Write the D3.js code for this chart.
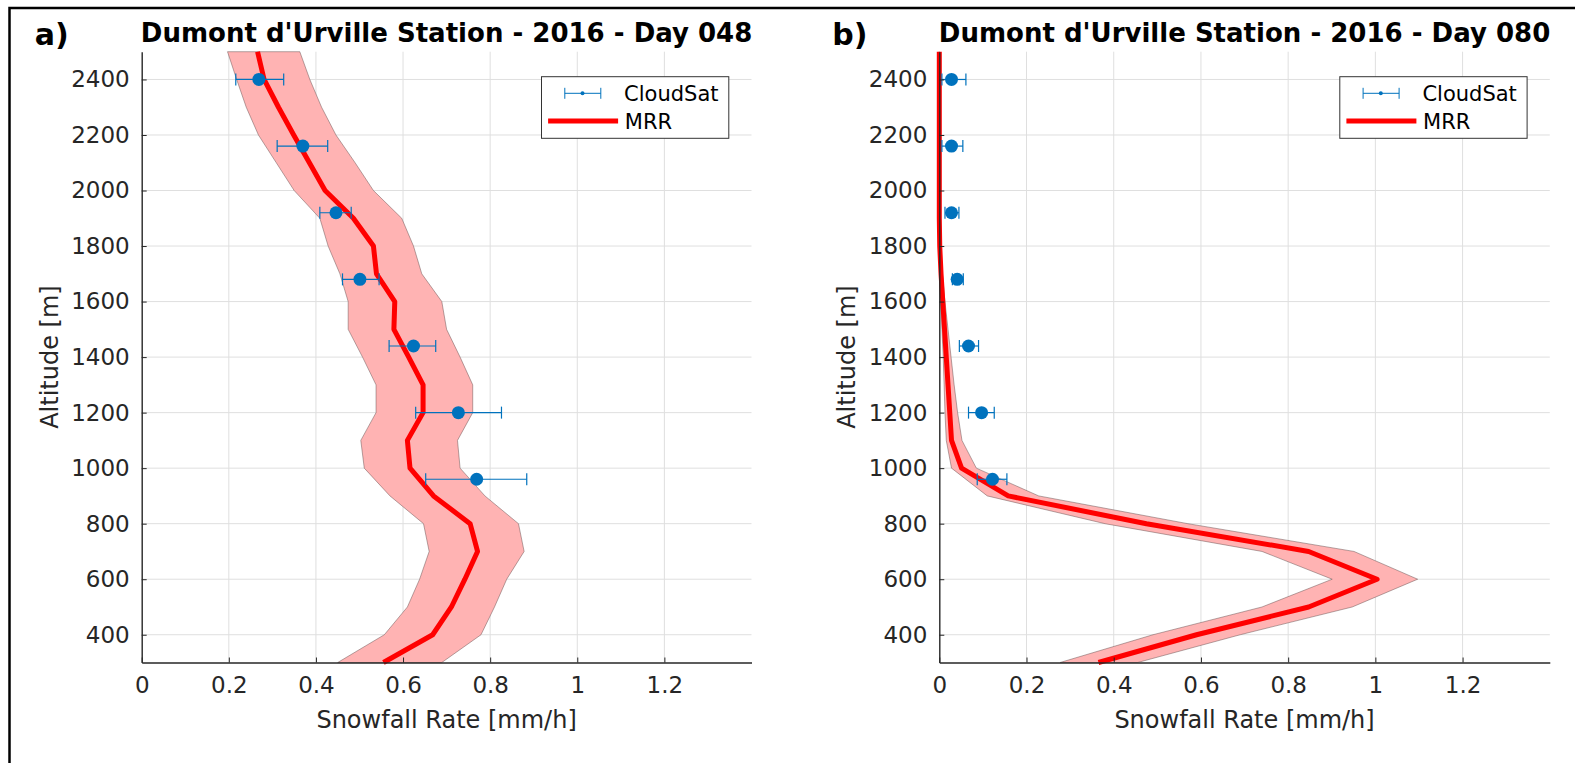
<!DOCTYPE html>
<html>
<head>
<meta charset="utf-8">
<script src="https://cdn.jsdelivr.net/npm/d3@7"></script>
<style>
  html, body { margin: 0; padding: 0; background: #ffffff; }
  svg { display: block; }
  text { font-family: "DejaVu Sans", sans-serif; }
</style>
</head>
<body>
<svg id="chart" width="1575" height="763"></svg>
<script>
// ---------------- DATA ----------------
const panelLetters = ["a)", "b)"];
const panelTitles = ["Dumont d'Urville Station - 2016 - Day 048", "Dumont d'Urville Station - 2016 - Day 080"];
const xTickValues = [0, 0.2, 0.4, 0.6, 0.8, 1, 1.2];
const xTickLabels = ["0", "0.2", "0.4", "0.6", "0.8", "1", "1.2"];
const yTickValues = [400, 600, 800, 1000, 1200, 1400, 1600, 1800, 2000, 2200, 2400];
const xLabel = "Snowfall Rate [mm/h]";
const yLabel = "Altitude [m]";
const legendLabels = ["CloudSat", "MRR"];

// MRR altitude grid [m]
const mrrAltitude = [300, 400, 500, 600, 700, 800, 900, 1000, 1100, 1200, 1300, 1400,
                     1500, 1600, 1700, 1800, 1900, 2000, 2100, 2200, 2300, 2400, 2500];

// Panel a (Day 048) – MRR mean and uncertainty band [mm/h]
const mrrA      = [0.555, 0.668, 0.711, 0.742, 0.771, 0.754, 0.670, 0.616, 0.610, 0.646, 0.646, 0.613,
                   0.579, 0.581, 0.539, 0.532, 0.486, 0.421, 0.385, 0.349, 0.314, 0.281, 0.266];
const mrrALower = [0.450, 0.557, 0.610, 0.638, 0.660, 0.647, 0.570, 0.511, 0.503, 0.538, 0.538, 0.507,
                   0.474, 0.474, 0.455, 0.428, 0.409, 0.350, 0.309, 0.268, 0.240, 0.218, 0.197];
const mrrAUpper = [0.689, 0.779, 0.810, 0.838, 0.878, 0.865, 0.788, 0.731, 0.725, 0.760, 0.760, 0.731,
                   0.700, 0.689, 0.643, 0.624, 0.597, 0.532, 0.490, 0.446, 0.413, 0.386, 0.363];

// Panel b (Day 080) – MRR mean and uncertainty band [mm/h]
const mrrB      = [0.365, 0.590, 0.847, 1.004, 0.847, 0.475, 0.158, 0.051, 0.028, 0.024, 0.020, 0.016,
                   0.012, 0.008, 0.004, 0.001, 0, 0, 0, 0, 0, 0, 0];
const mrrBLower = [0.277, 0.490, 0.740, 0.901, 0.740, 0.380, 0.110, 0.028, 0.016, 0.013, 0.011, 0.009,
                   0.006, 0.004, 0.002, 0, 0, 0, 0, 0, 0, 0, 0];
const mrrBUpper = [0.455, 0.690, 0.947, 1.097, 0.951, 0.570, 0.228, 0.085, 0.052, 0.042, 0.034, 0.027,
                   0.020, 0.013, 0.007, 0.002, 0, 0, 0, 0, 0, 0, 0];

// CloudSat altitude bins [m]
const csAltitude = [2400, 2160, 1920, 1680, 1440, 1200, 960];
// Panel a CloudSat
const csA      = [0.269, 0.370, 0.446, 0.501, 0.624, 0.727, 0.769];
const csALower = [0.216, 0.311, 0.409, 0.461, 0.568, 0.629, 0.652];
const csAUpper = [0.326, 0.427, 0.481, 0.545, 0.675, 0.826, 0.884];
// Panel b CloudSat
const csB      = [0.028, 0.028, 0.028, 0.041, 0.067, 0.097, 0.122];
const csBLower = [0.006, 0.006, 0.013, 0.030, 0.046, 0.067, 0.087];
const csBUpper = [0.061, 0.054, 0.045, 0.055, 0.090, 0.126, 0.155];

// ---------------- LAYOUT / STYLE ----------------
const svg = d3.select("#chart");
const axisColor = "#262626";
const gridColor = "#dfdfdf";
const csColor = "#0072BD";
const mrrColor = "#ff0000";
const bandFill = "#ffb3b3";

// Outer frame
svg.append("rect")
  .attr("x", 9.5).attr("y", 8)
  .attr("width", 1620).attr("height", 800)
  .attr("fill", "none").attr("stroke", "#000").attr("stroke-width", 2.5);

const panels = [
  { left: 141.7, right: 751.5, mrr: mrrA, lo: mrrALower, hi: mrrAUpper, cs: csA, csLo: csALower, csHi: csAUpper },
  { left: 939.3, right: 1549.8, mrr: mrrB, lo: mrrBLower, hi: mrrBUpper, cs: csB, csLo: csBLower, csHi: csBUpper }
];
const plotTop = 51.7, plotBottom = 662.5;

panels.forEach((p, i) => {
  const g = svg.append("g");
  const x = d3.scaleLinear().domain([0, 1.4]).range([p.left, p.right]);
  const y = d3.scaleLinear().domain([300, 2500]).range([plotBottom, plotTop]);

  // grid
  g.append("g").selectAll("line").data(xTickValues.filter(v => v > 0)).join("line")
    .attr("x1", d => x(d)).attr("x2", d => x(d)).attr("y1", plotTop).attr("y2", plotBottom)
    .attr("stroke", gridColor).attr("stroke-width", 1);
  g.append("g").selectAll("line").data(yTickValues).join("line")
    .attr("x1", p.left).attr("x2", p.right).attr("y1", d => y(d)).attr("y2", d => y(d))
    .attr("stroke", gridColor).attr("stroke-width", 1);

  // band
  const band = mrrAltitude.map((a, k) => ({ a, lo: p.lo[k], hi: p.hi[k] }));
  const area = d3.area().y(d => y(d.a)).x0(d => x(d.lo)).x1(d => x(d.hi));
  g.append("path").datum(band).attr("d", area)
    .attr("fill", bandFill)
    .attr("stroke", "rgba(90,70,70,0.45)").attr("stroke-width", 1);

  // MRR line
  const line = d3.line().x(d => x(d.v)).y(d => y(d.a));
  g.append("path").datum(mrrAltitude.map((a, k) => ({ a, v: p.mrr[k] })))
    .attr("d", line).attr("fill", "none")
    .attr("stroke", mrrColor).attr("stroke-width", 5).attr("stroke-linejoin", "round");

  // CloudSat error bars
  const cs = csAltitude.map((a, k) => ({ a, v: p.cs[k], lo: p.csLo[k], hi: p.csHi[k] }));
  const eg = g.append("g").attr("stroke", csColor).attr("stroke-width", 1.2);
  eg.append("g").selectAll("line").data(cs).join("line")
    .attr("x1", d => x(d.lo)).attr("x2", d => x(d.hi)).attr("y1", d => y(d.a)).attr("y2", d => y(d.a));
  eg.append("g").selectAll("line").data(cs).join("line")
    .attr("x1", d => x(d.lo)).attr("x2", d => x(d.lo)).attr("y1", d => y(d.a) - 6).attr("y2", d => y(d.a) + 6);
  eg.append("g").selectAll("line").data(cs).join("line")
    .attr("x1", d => x(d.hi)).attr("x2", d => x(d.hi)).attr("y1", d => y(d.a) - 6).attr("y2", d => y(d.a) + 6);
  g.append("g").selectAll("circle").data(cs).join("circle")
    .attr("cx", d => x(d.v)).attr("cy", d => y(d.a)).attr("r", 6.5).attr("fill", csColor);

  // axes
  const xAxis = d3.axisBottom(x).tickValues(xTickValues).tickFormat((d, k) => xTickLabels[k])
    .tickSizeInner(-5).tickSizeOuter(0).tickPadding(13);
  const gx = g.append("g").attr("transform", `translate(0,${plotBottom})`).call(xAxis);
  const yAxis = d3.axisLeft(y).tickValues(yTickValues).tickFormat(d3.format("d"))
    .tickSizeInner(-5).tickSizeOuter(0).tickPadding(12);
  const gy = g.append("g").attr("transform", `translate(${p.left},0)`).call(yAxis);
  [gx, gy].forEach(ax => {
    ax.select(".domain").attr("stroke", axisColor).attr("stroke-width", 1.4);
    ax.selectAll(".tick line").attr("stroke", axisColor).attr("stroke-width", 1);
    ax.selectAll(".tick text").attr("fill", axisColor)
      .attr("font-family", "DejaVu Sans").attr("font-size", 23);
  });
  gx.selectAll(".tick text").attr("dy", "0.75em");

  // axis labels
  svg.append("text").attr("x", (p.left + p.right) / 2).attr("y", 728)
    .attr("text-anchor", "middle").attr("fill", axisColor).attr("font-size", 24).text(xLabel);
  svg.append("text")
    .attr("transform", `translate(${p.left - 84},${(plotTop + plotBottom) / 2}) rotate(-90)`)
    .attr("text-anchor", "middle").attr("fill", axisColor).attr("font-size", 24).text(yLabel);

  // title
  const t = svg.append("text").attr("x", (p.left + p.right) / 2).attr("y", 42)
    .attr("text-anchor", "middle").attr("fill", "#000").attr("font-weight", "bold")
    .attr("font-size", 24).text(panelTitles[i]);
  const w = t.node().getComputedTextLength();
  t.attr("font-size", 24 * 612 / w);

  // panel letter
  svg.append("text").attr("x", p.left - 107).attr("y", 45)
    .attr("font-family", "Open Sans").attr("font-weight", 700).attr("font-size", 30)
    .attr("fill", "#000").text(panelLetters[i]);

  // legend
  const lx = p.right - 210, ly = 76.7, lw = 187.3, lh = 61.6;
  const lg = svg.append("g");
  lg.append("rect").attr("x", lx).attr("y", ly).attr("width", lw).attr("height", lh)
    .attr("fill", "#fff").attr("stroke", "#333").attr("stroke-width", 1);
  const ey = ly + 16.6;
  lg.append("line").attr("x1", lx + 23.3).attr("x2", lx + 59.3).attr("y1", ey).attr("y2", ey)
    .attr("stroke", csColor).attr("stroke-width", 1);
  [lx + 23.3, lx + 59.3].forEach(cx => lg.append("line").attr("x1", cx).attr("x2", cx)
    .attr("y1", ey - 5.5).attr("y2", ey + 5.5).attr("stroke", csColor).attr("stroke-width", 1));
  lg.append("circle").attr("cx", lx + 41).attr("cy", ey).attr("r", 2).attr("fill", csColor);
  lg.append("text").attr("x", lx + 82.6).attr("y", ey + 7.5).attr("font-size", 21)
    .attr("fill", "#000").text(legendLabels[0]);
  const my = ly + 44.3;
  lg.append("line").attr("x1", lx + 6.6).attr("x2", lx + 76.6).attr("y1", my).attr("y2", my)
    .attr("stroke", mrrColor).attr("stroke-width", 5);
  lg.append("text").attr("x", lx + 83.3).attr("y", my + 7.5).attr("font-size", 21)
    .attr("fill", "#000").text(legendLabels[1]);
});
</script>
</body>
</html>
